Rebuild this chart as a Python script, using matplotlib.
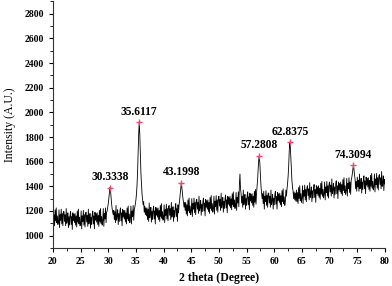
import numpy as np
import matplotlib
matplotlib.use('Agg')
import matplotlib.pyplot as plt
from matplotlib.ticker import MultipleLocator

# 2 theta grid, 0.1 degree steps from 20 to 80 (one row below = one degree)
two_theta = np.round(np.arange(20.0, 80.0001, 0.1), 1)

intensity = [
	1190, 1095, 1170, 1080, 1210, 1120, 1225, 1105, 1160, 1090,
	1110, 1210, 1065, 1170, 1125, 1215, 1095, 1180, 1080, 1195,
	1195, 1115, 1170, 1080, 1220, 1100, 1130, 1185, 1065, 1155,
	1085, 1165, 1195, 1090, 1155, 1050, 1185, 1120, 1175, 1105,
	1180, 1085, 1160, 1070, 1200, 1110, 1215, 1095, 1150, 1080,
	1100, 1200, 1055, 1160, 1115, 1205, 1085, 1170, 1070, 1185,
	1190, 1110, 1165, 1075, 1215, 1095, 1125, 1180, 1060, 1150,
	1090, 1170, 1200, 1095, 1160, 1055, 1190, 1125, 1180, 1110,
	1185, 1090, 1165, 1075, 1205, 1115, 1220, 1100, 1155, 1085,
	1120, 1220, 1075, 1180, 1135, 1225, 1105, 1190, 1200, 1230,
	1260, 1300, 1350, 1390, 1370, 1310, 1260, 1220, 1190, 1170,
	1205, 1130, 1195, 1105, 1245, 1125, 1155, 1210, 1090, 1180,
	1115, 1195, 1225, 1120, 1185, 1080, 1215, 1150, 1205, 1135,
	1205, 1110, 1185, 1095, 1225, 1135, 1240, 1120, 1175, 1105,
	1140, 1240, 1095, 1200, 1155, 1245, 1125, 1210, 1230, 1260,
	1290, 1340, 1410, 1520, 1680, 1830, 1920, 1820, 1660, 1510,
	1420, 1340, 1290, 1250, 1275, 1190, 1240, 1170, 1225, 1160,
	1225, 1130, 1215, 1115, 1265, 1145, 1175, 1230, 1110, 1200,
	1130, 1210, 1240, 1135, 1200, 1095, 1230, 1165, 1220, 1150,
	1225, 1130, 1205, 1115, 1245, 1155, 1260, 1140, 1195, 1125,
	1150, 1250, 1105, 1210, 1165, 1255, 1135, 1220, 1120, 1235,
	1245, 1165, 1220, 1130, 1270, 1150, 1180, 1235, 1115, 1205,
	1150, 1230, 1260, 1155, 1220, 1115, 1250, 1185, 1250, 1290,
	1340, 1400, 1430, 1390, 1340, 1300, 1270, 1230, 1270, 1205,
	1270, 1175, 1250, 1160, 1290, 1200, 1305, 1185, 1240, 1170,
	1200, 1300, 1155, 1260, 1215, 1305, 1185, 1270, 1170, 1285,
	1295, 1215, 1270, 1180, 1320, 1200, 1230, 1285, 1165, 1255,
	1195, 1275, 1305, 1200, 1265, 1160, 1295, 1230, 1285, 1215,
	1290, 1195, 1270, 1180, 1310, 1220, 1325, 1205, 1260, 1190,
	1220, 1320, 1175, 1280, 1235, 1325, 1205, 1290, 1190, 1305,
	1320, 1240, 1295, 1205, 1345, 1225, 1255, 1310, 1190, 1280,
	1220, 1300, 1330, 1225, 1290, 1185, 1320, 1255, 1310, 1240,
	1320, 1225, 1300, 1210, 1340, 1250, 1355, 1235, 1290, 1220,
	1250, 1350, 1205, 1310, 1265, 1355, 1235, 1420, 1500, 1380,
	1345, 1265, 1320, 1230, 1370, 1250, 1280, 1335, 1215, 1305,
	1245, 1325, 1355, 1250, 1315, 1210, 1345, 1280, 1335, 1265,
	1340, 1245, 1320, 1230, 1360, 1270, 1375, 1255, 1350, 1400,
	1460, 1550, 1620, 1650, 1580, 1480, 1400, 1350, 1300, 1340,
	1260, 1360, 1215, 1320, 1275, 1365, 1245, 1330, 1230, 1345,
	1345, 1265, 1320, 1230, 1370, 1250, 1280, 1335, 1215, 1305,
	1250, 1330, 1360, 1255, 1320, 1215, 1350, 1285, 1340, 1270,
	1345, 1250, 1325, 1235, 1365, 1275, 1380, 1260, 1315, 1245,
	1275, 1370, 1320, 1380, 1420, 1480, 1560, 1680, 1760, 1720,
	1620, 1520, 1440, 1390, 1360, 1300, 1355, 1290, 1345, 1280,
	1370, 1275, 1350, 1260, 1390, 1300, 1405, 1285, 1340, 1270,
	1305, 1405, 1260, 1365, 1320, 1410, 1290, 1375, 1275, 1390,
	1405, 1325, 1380, 1290, 1430, 1310, 1340, 1395, 1275, 1365,
	1305, 1385, 1415, 1310, 1375, 1270, 1405, 1340, 1395, 1325,
	1405, 1310, 1385, 1295, 1425, 1335, 1440, 1320, 1375, 1305,
	1335, 1435, 1290, 1395, 1350, 1440, 1320, 1405, 1305, 1420,
	1435, 1355, 1410, 1320, 1460, 1340, 1370, 1425, 1305, 1395,
	1335, 1415, 1445, 1340, 1405, 1300, 1435, 1370, 1425, 1355,
	1435, 1340, 1415, 1325, 1455, 1365, 1470, 1350, 1405, 1335,
	1365, 1465, 1320, 1425, 1380, 1470, 1350, 1435, 1335, 1450,
	1470, 1500, 1540, 1575, 1540, 1490, 1460, 1380, 1440, 1360,
	1475, 1395, 1450, 1360, 1500, 1380, 1410, 1465, 1345, 1435,
	1375, 1455, 1485, 1380, 1445, 1340, 1475, 1410, 1465, 1395,
	1470, 1375, 1450, 1360, 1490, 1400, 1505, 1385, 1440, 1370,
	1400, 1500, 1355, 1460, 1415, 1505, 1385, 1470, 1370, 1485,
	1495, 1415, 1470, 1380, 1520, 1400, 1430, 1485, 1365, 1455,
	1420,
]

peak_pos = [30.3338, 35.6117, 43.1998, 57.2808, 62.8375, 74.3094]
peak_height = [1390, 1920, 1430, 1650, 1760, 1575]
peak_labels = ['30.3338', '35.6117', '43.1998', '57.2808', '62.8375', '74.3094']

plt.rcParams['font.family'] = ['Liberation Serif', 'DejaVu Serif']
plt.rcParams['axes.spines.top'] = False
plt.rcParams['axes.spines.right'] = False

fig = plt.figure(figsize=(3.92, 2.86), dpi=100)
ax = fig.add_axes([0.135, 0.133, 0.847, 0.862])

ax.plot(two_theta, intensity, color='black', lw=0.6)
ax.plot(peak_pos, peak_height, ls='none', marker='+', ms=5, mew=1.0, color='#f4476b')

for x, y, label in zip(peak_pos, peak_height, peak_labels):
	ax.annotate(label, (x, y), xytext=(0, 3), textcoords='offset points',
		ha='center', va='bottom', fontsize=8.3, fontweight='bold')

ax.set_xlim(20, 80)
ax.set_ylim(900, 2900)
ax.xaxis.set_major_locator(MultipleLocator(5))
ax.xaxis.set_minor_locator(MultipleLocator(2.5))
ax.yaxis.set_minor_locator(MultipleLocator(100))
ax.set_yticks(np.arange(1000, 2801, 200))
ax.tick_params(which='major', length=3, width=0.8, labelsize=7)
ax.tick_params(which='minor', length=2, width=0.6)
for lbl in ax.get_xticklabels() + ax.get_yticklabels():
	lbl.set_fontweight('bold')
for side in ('left', 'bottom'):
	ax.spines[side].set_linewidth(0.8)
	ax.spines[side].set_color('#333333')

ax.set_xlabel('2 theta (Degree)', fontsize=8.5, fontweight='bold', labelpad=4)
ax.set_ylabel('Intensity (A.U.)', fontsize=8.5, labelpad=6)

fig.savefig('out.png', dpi=100)
